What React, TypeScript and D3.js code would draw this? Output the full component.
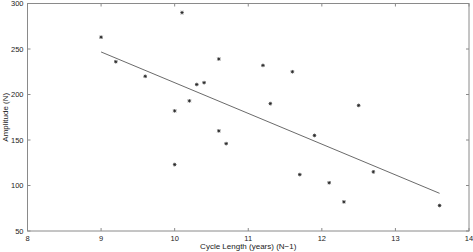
import React from "react";
import * as d3 from "d3";

const cycleLength = [9.0, 9.2, 9.6, 10.0, 10.0, 10.1, 10.2, 10.3, 10.4, 10.6, 10.6, 10.7, 11.2, 11.3, 11.6, 11.7, 11.9, 12.1, 12.3, 12.5, 12.7, 13.6];
const amplitude = [263, 236, 220, 182, 123, 290, 193, 211, 213, 239, 160, 146, 232, 190, 225, 112, 155, 103, 82, 188, 115, 78];
const xTicks = [8, 9, 10, 11, 12, 13, 14];
const yTicks = [50, 100, 150, 200, 250, 300];

const W = 473, H = 252;
const m = { left: 27.5, top: 3.5, right: 4, bottom: 21 };

export default function App() {
  const x = d3.scaleLinear().domain([8, 14]).range([m.left, W - m.right]);
  const y = d3.scaleLinear().domain([50, 300]).range([H - m.bottom, m.top]);

  const n = cycleLength.length;
  const mx = d3.mean(cycleLength)!;
  const my = d3.mean(amplitude)!;
  let sxy = 0, sxx = 0;
  for (let i = 0; i < n; i++) {
    sxy += (cycleLength[i] - mx) * (amplitude[i] - my);
    sxx += (cycleLength[i] - mx) ** 2;
  }
  const slope = sxy / sxx;
  const icpt = my - slope * mx;
  const x0 = d3.min(cycleLength)!, x1 = d3.max(cycleLength)!;
  const line = d3.line<number>().x((d) => x(d)).y((d) => y(icpt + slope * d));

  const axisColor = "#8a8a8a";
  const textColor = "#222";
  const font = "Liberation Sans, Arial, sans-serif";
  const fs = 8;
  const tfs = 7.5;

  const star = (cx: number, cy: number, k: number) => {
    const r = 1.8;
    return (
      <g key={k} stroke="#222" strokeWidth={0.8}>
        <line x1={cx - r} y1={cy} x2={cx + r} y2={cy} />
        <line x1={cx} y1={cy - r} x2={cx} y2={cy + r} />
        <line x1={cx - r * 0.75} y1={cy - r * 0.75} x2={cx + r * 0.75} y2={cy + r * 0.75} />
        <line x1={cx - r * 0.75} y1={cy + r * 0.75} x2={cx + r * 0.75} y2={cy - r * 0.75} />
      </g>
    );
  };

  const left = x(8), right = x(14), top = y(300), bottom = y(50);
  const tl = 3;

  return (
    <svg width={W} height={H} style={{ position: "absolute", left: 0, top: 0, background: "#fff" }}>
      <rect x={0} y={0} width={W} height={H} fill="#fff" />
      <rect x={left} y={top} width={right - left} height={bottom - top} fill="none" stroke={axisColor} strokeWidth={1} />
      {xTicks.map((t) => (
        <g key={"x" + t}>
          <line x1={x(t)} x2={x(t)} y1={bottom} y2={bottom - tl} stroke={axisColor} />
          <line x1={x(t)} x2={x(t)} y1={top} y2={top + tl} stroke={axisColor} />
          <text x={x(t)} y={bottom + 9.5} textAnchor="middle" fontSize={tfs} fontFamily={font} fill={textColor}>{t}</text>
        </g>
      ))}
      {yTicks.map((t) => (
        <g key={"y" + t}>
          <line x1={left} x2={left + tl} y1={y(t)} y2={y(t)} stroke={axisColor} />
          <line x1={right} x2={right - tl} y1={y(t)} y2={y(t)} stroke={axisColor} />
          <text x={left - 4} y={y(t) + 2.7} textAnchor="end" fontSize={tfs} fontFamily={font} fill={textColor}>{t}</text>
        </g>
      ))}
      <path d={line([x0, x1]) || ""} fill="none" stroke="#444" strokeWidth={0.8} />
      {cycleLength.map((c, i) => star(x(c), y(amplitude[i]), i))}
      <text x={(left + right) / 2} y={249} textAnchor="middle" fontSize={fs} fontFamily={font} fill={textColor}>Cycle Length (years) (N−1)</text>
      <text transform={`translate(7.5,${(top + bottom) / 2}) rotate(-90)`} textAnchor="middle" fontSize={fs} fontFamily={font} fill={textColor}>Amplitude (N)</text>
    </svg>
  );
}
